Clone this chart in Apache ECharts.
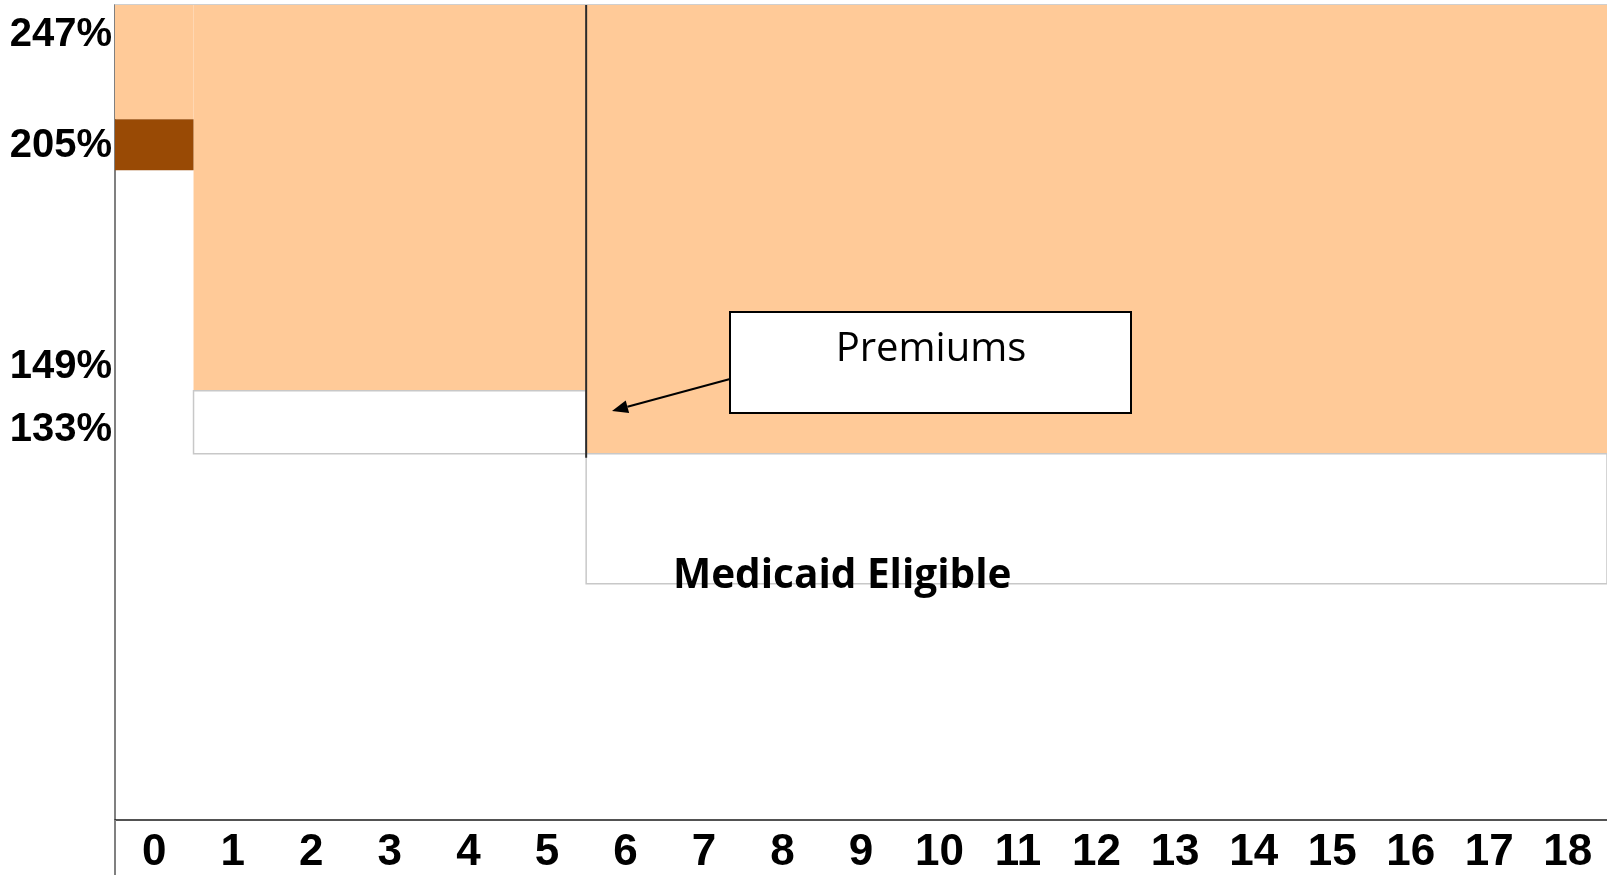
<!DOCTYPE html>
<html>
<head>
<meta charset="utf-8">
<title>Eligibility by age</title>
<script src="https://cdn.jsdelivr.net/npm/echarts@6.0.0/dist/echarts.min.js"></script>
<style>
  html, body { margin: 0; padding: 0; background: #ffffff; }
  #chart { width: 1607px; height: 875px; }
</style>
</head>
<body>
<div id="chart"></div>
<script>
// Ages shown along the bottom axis
const ages = ['0','1','2','3','4','5','6','7','8','9','10','11','12','13','14','15','16','17','18'];

// Age groups (first and last age of each group)
const groupFirstAge = [0, 1, 6];
const groupLastAge  = [0, 5, 18];

// Premium range for each group, in % of poverty level
const premiumCeiling = [247, 247, 247];
const premiumFloor   = [218, 149, 133];

// Infant band just above 205%
const infantBandLow  = 205;
const infantBandHigh = 218;

// Outlined bands below the premium range (none for infants)
const outlinedLow  = [null, 133, 100];
const outlinedHigh = [null, 149, 133];

// Percent labels on the vertical axis
const yTicks = [133, 149, 205, 247];

const ORANGE = '#FFCA98';
const BROWN  = '#994A05';
const GRID = { left: 115, right: 0, top: 5, bottom: 55 };

const orangeData = groupFirstAge.map((f, i) => [f, groupLastAge[i], premiumFloor[i], premiumCeiling[i]]);
const brownData  = [[groupFirstAge[0], groupLastAge[0], infantBandLow, infantBandHigh]];
const boxData = groupFirstAge
  .map((f, i) => [f, groupLastAge[i], outlinedLow[i], outlinedHigh[i]])
  .filter(d => d[2] != null);
// Dark divider on the left side of the school-age premium block
const dividerData = [[groupFirstAge[2], groupFirstAge[2], premiumFloor[2], premiumCeiling[2]]];

function bandRect(api) {
  const first = api.value(0), last = api.value(1);
  const lo = api.value(2), hi = api.value(3);
  const band = api.size([1, 0])[0];
  const pA = api.coord([first, hi]);
  const pB = api.coord([last, lo]);
  return { x: pA[0] - band / 2, y: pA[1], width: pB[0] + band / 2 - (pA[0] - band / 2), height: pB[1] - pA[1] };
}

function rectSeries(name, data, style, z) {
  return {
    name, type: 'custom', data, z,
    encode: { x: [0, 1], y: [2, 3] },
    silent: true,
    renderItem: (params, api) => ({
      type: 'rect',
      shape: bandRect(api),
      style: style
    })
  };
}

const labelFont = { fontFamily: 'Liberation Sans, Arial, sans-serif', fontWeight: 'bold', color: '#000' };
const topTicks = yTicks.filter(v => v === Math.max(...premiumCeiling));
const lowerTicks = yTicks.filter(v => topTicks.indexOf(v) < 0);

const chart = echarts.init(document.getElementById('chart'), null, { renderer: 'canvas' });

const option = {
  animation: false,
  backgroundColor: '#ffffff',
  grid: GRID,
  xAxis: {
    type: 'category',
    data: ages,
    boundaryGap: true,
    axisLine: { show: true, lineStyle: { color: '#1a1a1a', width: 1.5 } },
    axisTick: { show: false },
    splitLine: { show: false },
    axisLabel: Object.assign({ fontSize: 44, margin: 11, interval: 0 }, labelFont)
  },
  yAxis: [
    {
      type: 'value', min: 40, max: 247, position: 'left',
      axisLine: { show: true, lineStyle: { color: '#808080', width: 2 } },
      axisTick: { show: false },
      splitLine: { show: false },
      axisLabel: Object.assign({
        customValues: lowerTicks,
        formatter: v => v + '%',
        fontSize: 40, margin: 3,
        verticalAlign: 'bottom',
        padding: [0, 0, 4, 0]
      }, labelFont)
    },
    {
      type: 'value', min: 40, max: 247, position: 'left',
      axisLine: { show: false },
      axisTick: { show: false },
      splitLine: { show: false },
      axisLabel: Object.assign({
        customValues: topTicks,
        formatter: v => v + '%',
        fontSize: 40, margin: 3,
        verticalAlign: 'top',
        padding: [10, 0, 0, 0]
      }, labelFont)
    }
  ],
  series: [
    rectSeries('Premiums', orangeData, { fill: ORANGE }, 1),
    rectSeries('Infants', brownData, { fill: BROWN }, 2),
    rectSeries('Outlined', boxData, { fill: 'none', stroke: '#c8c8c8', lineWidth: 1.5 }, 3),
    {
      name: 'Divider', type: 'custom', data: dividerData, z: 4, silent: true,
      encode: { x: [0, 1], y: [2, 3] },
      renderItem: (params, api) => {
        const band = api.size([1, 0])[0];
        const top = api.coord([api.value(0), api.value(3)]);
        const bot = api.coord([api.value(0), api.value(2)]);
        const x = top[0] - band / 2;
        return {
          type: 'line',
          shape: { x1: x, y1: top[1], x2: x, y2: bot[1] + 4 },
          style: { stroke: '#2b2b2b', lineWidth: 2 }
        };
      }
    }
  ]
};

chart.setOption(option);

// Frame pieces and annotations
const W = 1607, H = 875;
const plotBottom = H - GRID.bottom;

// Arrow from the "Premiums" callout toward the premium block
const tail = [730, 379], tip = [612, 411];
const ux = tip[0] - tail[0], uy = tip[1] - tail[1];
const len = Math.hypot(ux, uy);
const dx = ux / len, dy = uy / len;
const headLen = 16, headHalf = 6.5;
const base = [tip[0] - dx * headLen, tip[1] - dy * headLen];
const headPts = [
  tip,
  [base[0] - dy * headHalf, base[1] + dx * headHalf],
  [base[0] + dy * headHalf, base[1] - dx * headHalf]
];

chart.setOption({
  graphic: [
    // top edge of the plot
    { type: 'line', z: 50, shape: { x1: GRID.left, y1: GRID.top - 0.5, x2: W, y2: GRID.top - 0.5 },
      style: { stroke: '#cfcfcf', lineWidth: 1 } },
    // vertical axis continues through the label row
    { type: 'line', z: 50, shape: { x1: GRID.left, y1: plotBottom, x2: GRID.left, y2: H },
      style: { stroke: '#808080', lineWidth: 2 } },
    // callout box
    { type: 'rect', z: 60, shape: { x: 730, y: 312, width: 401, height: 101 },
      style: { fill: '#ffffff', stroke: '#000000', lineWidth: 2 } },
    { type: 'text', z: 61, x: 931, y: 350,
      style: { text: 'Premiums', fill: '#000', font: '40px "Open Sans", "Noto Sans", sans-serif',
               textAlign: 'center', textVerticalAlign: 'middle' } },
    { type: 'line', z: 60, shape: { x1: tail[0], y1: tail[1], x2: base[0], y2: base[1] },
      style: { stroke: '#000', lineWidth: 2 } },
    { type: 'polygon', z: 60, shape: { points: headPts }, style: { fill: '#000' } },
    // label inside the school-age band
    { type: 'text', z: 61, x: 673, y: 576,
      style: { text: 'Medicaid Eligible', fill: '#000', font: 'bold 40.5px "Open Sans", "Noto Sans", sans-serif',
               textAlign: 'left', textVerticalAlign: 'middle' } }
  ]
});
</script>
</body>
</html>
